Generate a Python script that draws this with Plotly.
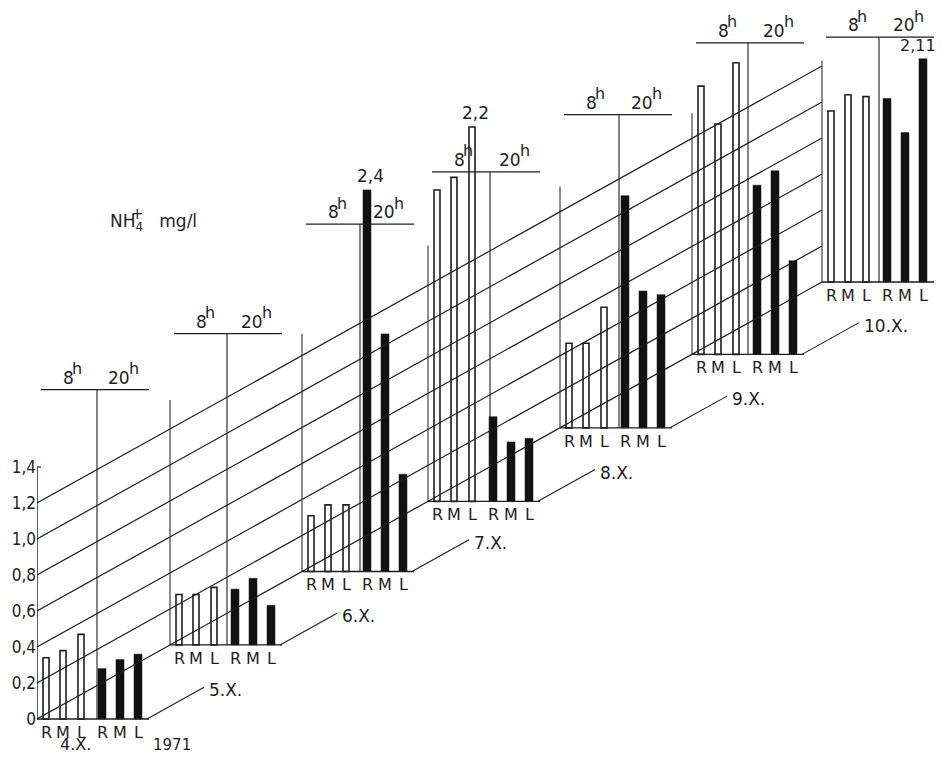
import plotly.graph_objects as go

# ---------------- data ----------------
days = ["4.X.", "5.X.", "6.X.", "7.X.", "8.X.", "9.X.", "10.X."]
bar_labels = ["R", "M", "L", "R", "M", "L"]
# drawn heights (mg/l) of 8h bars (R, M, L) and 20h bars (R', M', L')
val_8h = [
    [0.34, 0.38, 0.47],
    [0.28, 0.28, 0.32],
    [0.31, 0.37, 0.37],
    [1.73, 1.80, 2.08],
    [0.47, 0.47, 0.67],
    [1.49, 1.28, 1.62],
    [0.95, 1.04, 1.03],
]
val_20h = [
    [0.28, 0.33, 0.36],
    [0.31, 0.37, 0.22],
    [2.12, 1.32, 0.54],
    [0.47, 0.33, 0.35],
    [1.29, 0.76, 0.74],
    [0.94, 1.02, 0.52],
    [1.02, 0.83, 1.24],
]
# bars whose true value is written above them: (day index, bar index, text)
value_notes = [(2, 3, "2,4"), (3, 2, "2,2"), (6, 5, "2,11")]
tick_vals = [0, 0.2, 0.4, 0.6, 0.8, 1.0, 1.2, 1.4]
tick_text = ["0", "0,2", "0,4", "0,6", "0,8", "1,0", "1,2", "1,4"]
grid_levels = [0, 0.2, 0.4, 0.6, 0.8, 1.0, 1.2]
year_label = "1971"
unit_main = "NH<sub>4</sub>   mg/l"
unit_charge = "+"
hour_labels = ["8", "20"]

# ---------------- layout constants ----------------
PAGE_W, PAGE_H = 946, 762
BODY = 8                     # default page body margin around the plot
W, H = PAGE_W - 2 * BODY, PAGE_H - 2 * BODY
AX_X = 37                    # page x of value axis (px)
ZERO_PX = 719                # page y of 0 on axis
PX_PER_UNIT = 180.0
SLOPE = (437 / 785) / PX_PER_UNIT   # units rise per px of depth shift
group_x0 = [37, 170, 302, 428, 560, 692, 822]
bar_off = [9, 26, 44, 65, 83, 101]
group_w = 112
frame_h = [1.4, 1.36, 1.32, 1.42, 1.34, 1.34, 1.23]
header_h = [1.83, 1.73, 1.93, 1.83, 1.74, 1.73, 1.36]
divider_off = [60, 57, 58, 62, 59, 56, 57]
FONT = "DejaVu Sans, Liberation Sans"
TICK_FONT = "DejaVu Sans Condensed, DejaVu Sans"
INK = "#1e1e1e"
U = 1 / PX_PER_UNIT          # one pixel in value units
LM = AX_X - BODY             # left margin inside figure

def base_of(x):
    return SLOPE * (x - AX_X)

fig = go.Figure()

def seg(xs, ys, width=1.2):
    fig.add_trace(go.Scatter(x=xs, y=ys, mode="lines", line=dict(color=INK, width=width),
                             hoverinfo="skip", showlegend=False, cliponaxis=False))

annotations = []

def txt(x, y, s, size=16, xa="center", ya="middle"):
    annotations.append(dict(x=x, y=y, text=s, showarrow=False, xanchor=xa, yanchor=ya,
                            font=dict(size=size, family=FONT, color=INK)))

# diagonal grid lines
x_end = group_x0[-1]
for v in grid_levels:
    seg([AX_X, x_end], [v, v + base_of(x_end)])

# value axis line with small top tick
seg([AX_X, AX_X], [0, tick_vals[-1]], 1.4)
seg([AX_X, AX_X + 4], [tick_vals[-1], tick_vals[-1]], 1.2)

for i, x0 in enumerate(group_x0):
    b = base_of(x0)
    # baseline
    seg([x0, x0 + group_w], [b, b], 1.3)
    # left frame line
    if i > 0:
        seg([x0, x0], [b, b + frame_h[i]], 1.0)
    # header line + divider
    hy = b + header_h[i]
    seg([x0 + 4, x0 + group_w], [hy, hy], 1.3)
    seg([x0 + divider_off[i], x0 + divider_off[i]], [b, hy], 1.1)
    txt(x0 + 31, hy + 12 * U, hour_labels[0], 17)
    txt(x0 + 40, hy + 21 * U, "h", 16)
    txt(x0 + 82, hy + 12 * U, hour_labels[1], 17)
    txt(x0 + 97, hy + 21 * U, "h", 16)
    # bars
    xs = [x0 + o for o in bar_off]
    fig.add_trace(go.Bar(x=xs[:3], y=val_8h[i], base=[b] * 3, width=6,
                         marker=dict(color="white", line=dict(color=INK, width=1.6)),
                         hoverinfo="skip", showlegend=False))
    fig.add_trace(go.Bar(x=xs[3:], y=val_20h[i], base=[b] * 3, width=8,
                         marker=dict(color="#111111", line=dict(color="#111111", width=0.5)),
                         hoverinfo="skip", showlegend=False))
    # bar labels
    for xx, lab in zip(xs, bar_labels):
        txt(xx, b - 2 * U, lab, 16, ya="top")
    # day labels
    if i == 0:
        txt(x0 + 38, b - 25 * U, days[i], 16)
    else:
        px0 = group_x0[i - 1] + group_w - 2
        pb = base_of(group_x0[i - 1])
        L = 57
        seg([px0, px0 + L], [pb, pb + SLOPE * L], 1.1)
        txt(px0 + L + 3, pb + SLOPE * L - 3 * U, days[i], 17, xa="left")

# value notes above truncated bars
for gi, bi, note in value_notes:
    x0 = group_x0[gi]
    b = base_of(x0)
    v = val_8h[gi][bi] if bi < 3 else val_20h[gi][bi - 3]
    if note == "2,11":
        txt(PAGE_W - BODY, b + v + 2 * U, note, 16, xa="right", ya="bottom")
    else:
        txt(x0 + bar_off[bi] + 3, b + v + 2 * U, note, 17, ya="bottom")

txt(172, -26 * U, year_label, 15)
txt(108, (ZERO_PX - 222) * U, unit_main, 17, xa="left")
txt(137, (ZERO_PX - 214) * U, unit_charge, 15)

fig.update_layout(
    width=W, height=H,
    margin=dict(l=LM, r=0, t=0, b=0, autoexpand=False),
    paper_bgcolor="white", plot_bgcolor="white",
    barmode="overlay",
    xaxis=dict(range=[AX_X, AX_X + (W - LM)], visible=False, fixedrange=True),
    yaxis=dict(range=[(ZERO_PX - (PAGE_H - BODY)) * U, (ZERO_PX - BODY) * U],
               tickvals=tick_vals, ticktext=tick_text, ticks="",
               showgrid=False, zeroline=False, showline=False,
               tickfont=dict(size=17, family=TICK_FONT, color=INK), fixedrange=True),
    annotations=annotations,
    showlegend=False,
)
fig.write_html("out.html")
